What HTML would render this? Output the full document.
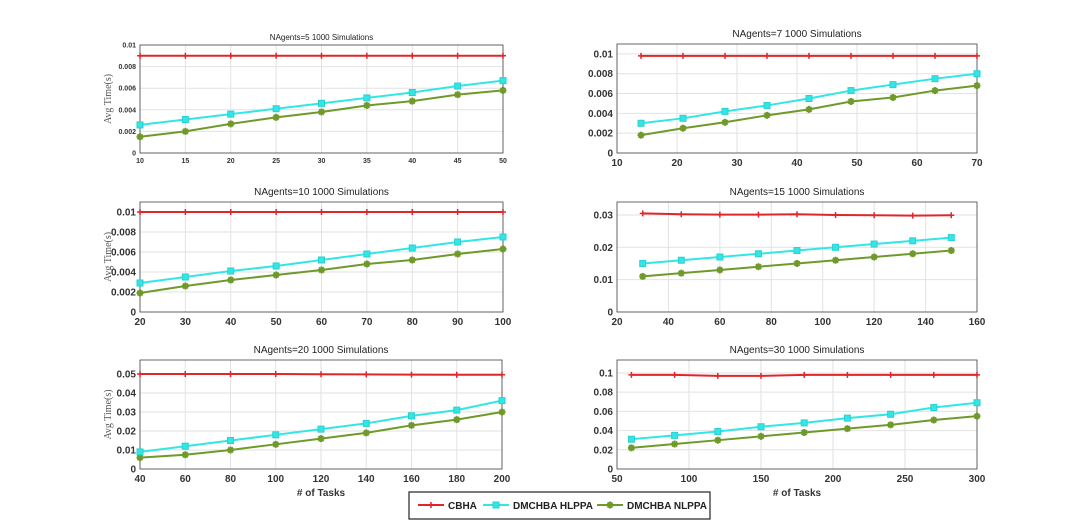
<!DOCTYPE html>
<html><head><meta charset="utf-8"><style>
html,body{margin:0;padding:0;background:#fff;}
svg{display:block;font-family:"Liberation Sans",sans-serif;}
</style></head><body>
<svg id="fig" width="1080" height="527" viewBox="0 0 1080 527"></svg>
<script>
// Panel data
const titles=["NAgents=5 1000 Simulations","NAgents=7 1000 Simulations","NAgents=10 1000 Simulations","NAgents=15 1000 Simulations","NAgents=20 1000 Simulations","NAgents=30 1000 Simulations"];
const xs1=[10,15,20,25,30,35,40,45,50];
const red1=[0.009,0.009,0.009,0.009,0.009,0.009,0.009,0.009,0.009];
const cyan1=[0.0026,0.0031,0.0036,0.0041,0.0046,0.0051,0.0056,0.0062,0.0067];
const green1=[0.0015,0.002,0.0027,0.0033,0.0038,0.0044,0.0048,0.0054,0.0058];
const xs2=[14,21,28,35,42,49,56,63,70];
const red2=[0.0098,0.0098,0.0098,0.0098,0.0098,0.0098,0.0098,0.0098,0.0098];
const cyan2=[0.003,0.0035,0.0042,0.0048,0.0055,0.0063,0.0069,0.0075,0.008];
const green2=[0.0018,0.0025,0.0031,0.0038,0.0044,0.0052,0.0056,0.0063,0.0068];
const xs3=[20,30,40,50,60,70,80,90,100];
const red3=[0.01,0.01,0.01,0.01,0.01,0.01,0.01,0.01,0.01];
const cyan3=[0.0029,0.0035,0.0041,0.0046,0.0052,0.0058,0.0064,0.007,0.0075];
const green3=[0.0019,0.0026,0.0032,0.0037,0.0042,0.0048,0.0052,0.0058,0.0063];
const xs4=[30,45,60,75,90,105,120,135,150];
const red4=[0.0305,0.0302,0.0301,0.0301,0.0302,0.03,0.0299,0.0298,0.0299];
const cyan4=[0.015,0.016,0.017,0.018,0.019,0.02,0.021,0.022,0.023];
const green4=[0.011,0.012,0.013,0.014,0.015,0.016,0.017,0.018,0.019];
const xs5=[40,60,80,100,120,140,160,180,200];
const red5=[0.05,0.05,0.05,0.05,0.0499,0.0498,0.0497,0.0496,0.0496];
const cyan5=[0.009,0.012,0.015,0.018,0.021,0.024,0.028,0.031,0.036];
const green5=[0.006,0.0075,0.01,0.013,0.016,0.019,0.023,0.026,0.03];
const xs6=[60,90,120,150,180,210,240,270,300];
const red6=[0.098,0.098,0.097,0.097,0.098,0.098,0.098,0.098,0.098];
const cyan6=[0.031,0.035,0.039,0.044,0.048,0.053,0.057,0.064,0.069];
const green6=[0.022,0.026,0.03,0.034,0.038,0.042,0.046,0.051,0.055];
const xticks1=["10","15","20","25","30","35","40","45","50"];
const xticks2=["10","20","30","40","50","60","70"];
const xticks3=["20","30","40","50","60","70","80","90","100"];
const xticks4=["20","40","60","80","100","120","140","160"];
const xticks5=["40","60","80","100","120","140","160","180","200"];
const xticks6=["50","100","150","200","250","300"];
const yticks1=["0","0.002","0.004","0.006","0.008","0.01"];
const yticks2=["0","0.002","0.004","0.006","0.008","0.01"];
const yticks3=["0","0.002","0.004","0.006","0.008","0.01"];
const yticks4=["0","0.01","0.02","0.03"];
const yticks5=["0","0.01","0.02","0.03","0.04","0.05"];
const yticks6=["0","0.02","0.04","0.06","0.08","0.1"];

const NS="http://www.w3.org/2000/svg";
const svg=document.getElementById('fig');
function mk(tag,attrs,parent,text){const e=document.createElementNS(NS,tag);for(const k in attrs)e.setAttribute(k,attrs[k]);if(text!==undefined)e.textContent=text;(parent||svg).appendChild(e);return e;}

const panels=[
 {box:[140,45,503,153],xr:[10,50],yr:[0,0.01],xs:xs1,r:red1,c:cyan1,g:green1,xt:xticks1,yt:yticks1,fs:7,yl:true},
 {box:[617,44,977,153],xr:[10,70],yr:[0,0.011],xs:xs2,r:red2,c:cyan2,g:green2,xt:xticks2,yt:yticks2,fs:10},
 {box:[140,202,503,312],xr:[20,100],yr:[0,0.011],xs:xs3,r:red3,c:cyan3,g:green3,xt:xticks3,yt:yticks3,fs:10,yl:true},
 {box:[617,202,977,312],xr:[20,160],yr:[0,0.034],xs:xs4,r:red4,c:cyan4,g:green4,xt:xticks4,yt:yticks4,fs:10},
 {box:[140,360,502,469],xr:[40,200],yr:[0,0.0574],xs:xs5,r:red5,c:cyan5,g:green5,xt:xticks5,yt:yticks5,fs:10,yl:true,xl:true},
 {box:[617,360,977,469],xr:[50,300],yr:[0,0.1135],xs:xs6,r:red6,c:cyan6,g:green6,xt:xticks6,yt:yticks6,fs:10,xl:true}
];

function cross(g,x,y,col){mk('path',{d:`M${x-3},${y}H${x+3}M${x},${y-3}V${y+3}`,stroke:col,'stroke-width':1.5},g);}
function sq(g,x,y){mk('rect',{x:x-3,y:y-3,width:6,height:6,fill:'#33e6e6',stroke:'#2ad0d0'},g);}
function star(g,x,y){mk('path',{d:`M${x-3.5},${y}H${x+3.5}M${x},${y-3.5}V${y+3.5}M${x-2.5},${y-2.5}L${x+2.5},${y+2.5}M${x-2.5},${y+2.5}L${x+2.5},${y-2.5}`,stroke:'#6f9a2a','stroke-width':2},g);}

panels.forEach((p,i)=>{
 const [x0,y0,x1,y1]=p.box;
 const g=mk('g',{});
 
 
 const sx=v=>x0+(v-p.xr[0])/(p.xr[1]-p.xr[0])*(x1-x0);
 const sy=v=>y1-(v-p.yr[0])/(p.yr[1]-p.yr[0])*(y1-y0);
 mk('rect',{x:x0,y:y0,width:x1-x0,height:y1-y0,fill:'#fff'},g);
 p.xt.forEach(t=>{const X=sx(+t);mk('line',{x1:X,y1:y0,x2:X,y2:y1,stroke:'#e2e2e2'},g);
   const tx=mk('text',{x:X,y:y1+p.fs+3,'font-size':p.fs,'font-weight':'bold','text-anchor':'middle',fill:'#333'},g,t);
   });
 p.yt.forEach(t=>{const Y=sy(+t);mk('line',{x1:x0,y1:Y,x2:x1,y2:Y,stroke:'#e2e2e2'},g);
   const ty=mk('text',{x:x0-4,y:Y+p.fs*0.35,'font-size':p.fs,'font-weight':'bold','text-anchor':'end',fill:'#333'},g,t);
   });
 mk('rect',{x:x0,y:y0,width:x1-x0,height:y1-y0,fill:'none',stroke:'#444','stroke-width':0.8},g);
 const tt=mk('text',{x:(x0+x1)/2,y:y0-(i==0?5:7),'font-size':i==0?8:10,'text-anchor':'middle',fill:'#222'},g,titles[i]);
 
 const series=[[p.g,'#6f9a2a',star],[p.c,'#33e6e6',sq],[p.r,'#e0262b',(gg,x,y)=>cross(gg,x,y,'#e0262b')]];
 series.forEach(([vals,col,mark],k)=>{
   const pts=p.xs.map((x,j)=>sx(x)+','+sy(vals[j])).join(' ');
   const pl=mk('polyline',{points:pts,fill:'none',stroke:col,'stroke-width':2},g);
   
   
   p.xs.forEach((x,j)=>mark(g,sx(x),sy(vals[j])));
 });
 if(p.yl){const yl=mk('text',{transform:`translate(${x0-29},${(y0+y1)/2}) rotate(-90)`,'font-size':10,'text-anchor':'middle',fill:'#555','font-family':'Liberation Serif,serif'},g,'Avg Time(s)');
   }
 if(p.xl){const xl=mk('text',{x:(x0+x1)/2,y:496,'font-size':10,'font-weight':'bold','text-anchor':'middle',fill:'#333'},g,'# of Tasks');
   }
});

// legend
const lg=mk('g',{});


mk('rect',{x:409,y:492,width:301,height:27,fill:'#fff',stroke:'#222','stroke-width':1.2},lg);
const leg=[['CBHA',418,'#e0262b'],['DMCHBA  HLPPA',483,'#33e6e6'],['DMCHBA  NLPPA',597,'#6f9a2a']];
leg.forEach(([name,x,col],k)=>{
 const e=mk('g',{},lg);
 
 
 mk('line',{x1:x,y1:505,x2:x+26,y2:505,stroke:col,'stroke-width':2},e);
 if(k==0)cross(e,x+13,505,col);else if(k==1)sq(e,x+13,505);else star(e,x+13,505);
 mk('text',{x:x+30,y:509,'font-size':10,'font-weight':'bold',fill:'#222','xml:space':'preserve'},e,name);
});
</script>
</body></html>
